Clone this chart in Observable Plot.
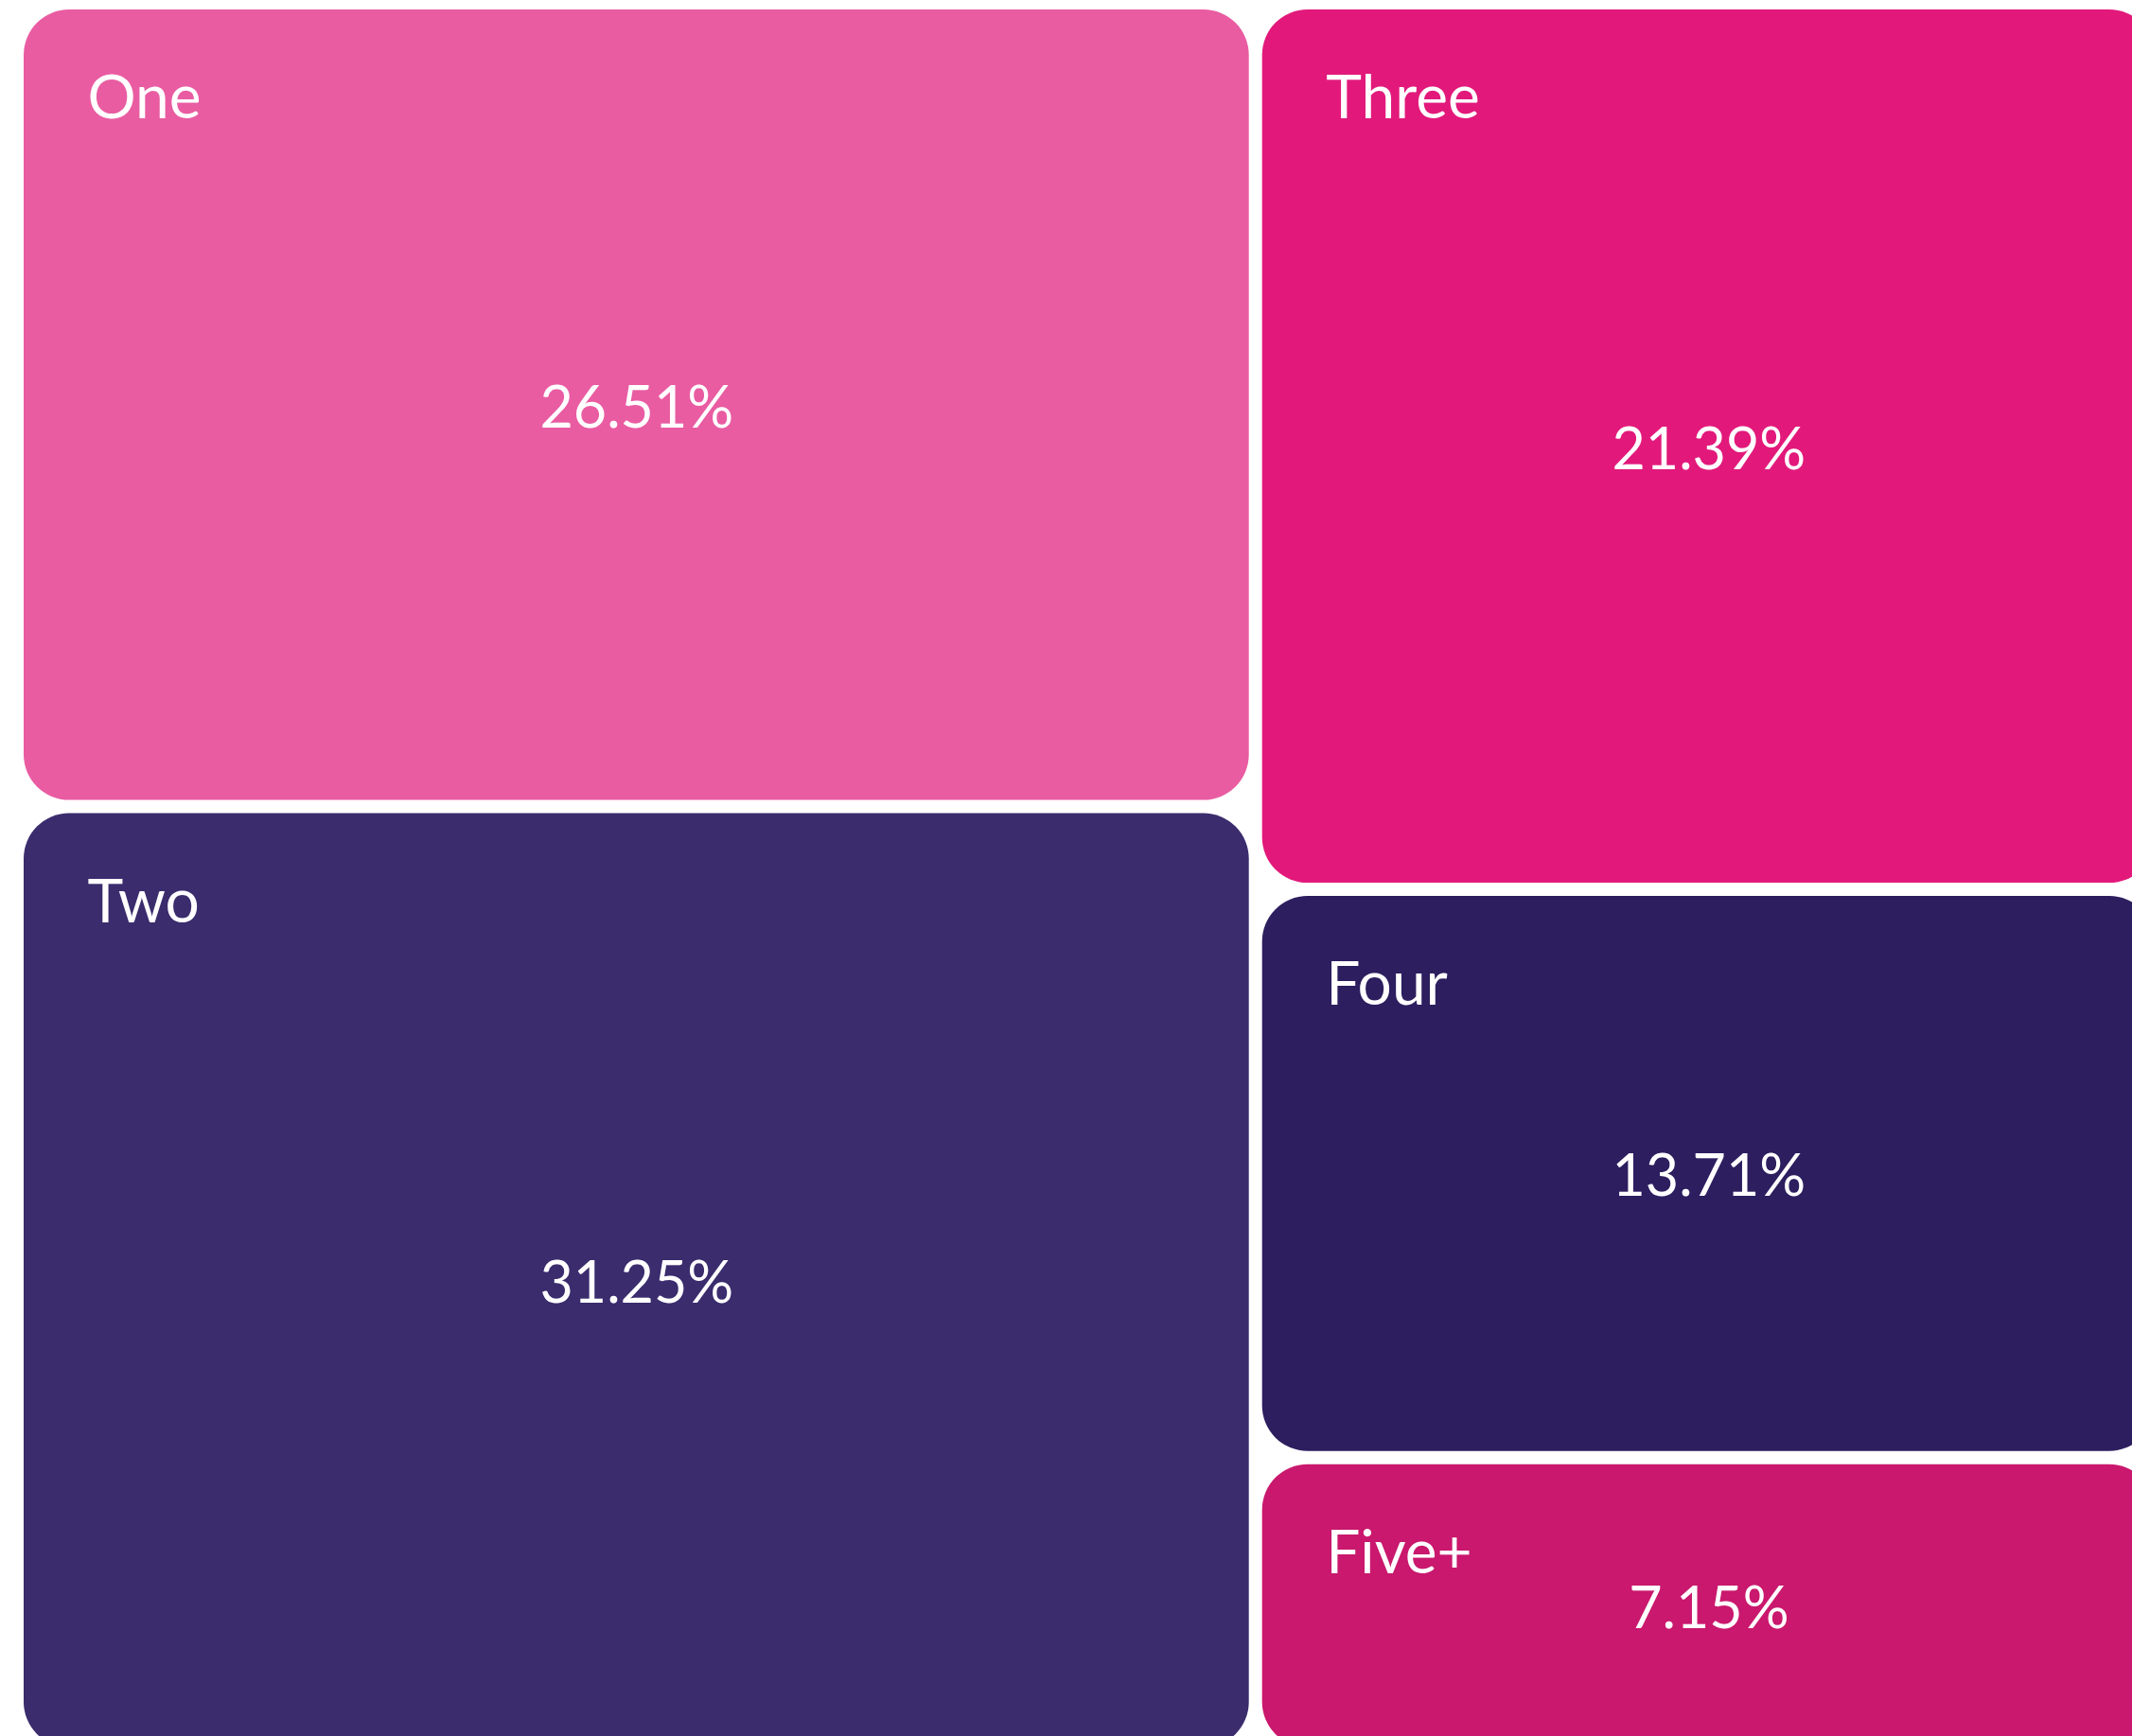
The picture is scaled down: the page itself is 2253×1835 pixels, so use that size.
<!DOCTYPE html>
<html>
<head>
<meta charset="utf-8">
<script src="https://cdn.jsdelivr.net/npm/d3@7"></script>
<script src="https://cdn.jsdelivr.net/npm/@observablehq/plot@0.6"></script>
<style>
  html, body { margin: 0; padding: 0; background: #ffffff; overflow: hidden; }
  #chart svg { overflow: hidden; display: block; }
</style>
</head>
<body>
<div id="chart"></div>
<script>
// Data
const categories = ["One", "Two", "Three", "Four", "Five+"];
const values = [26.51, 31.25, 21.39, 13.71, 7.15];
const palette = ["#E95CA2", "#3A2C6D", "#E2197B", "#2D1E5F", "#C9186D"];

// Layout extent of the treemap (layout units)
const W = 2266, H = 1851;

const rows = categories.map((name, i) => ({name, value: values[i]}));
const root = d3.hierarchy({children: rows}).sum(d => d.value || 0);
d3.treemap().size([W, H])(root);
const leaves = root.leaves();

const font = "Lato, 'Open Sans', sans-serif";

const chart = Plot.plot({
  width: 2253,
  height: 1835,
  margin: 0,
  style: {background: "#ffffff", fontFamily: font},
  x: {domain: [0, W], range: [18, 18 + W], axis: null},
  y: {domain: [0, H], range: [3, 3 + H], axis: null},
  color: {type: "ordinal", domain: categories, range: palette},
  marks: [
    Plot.rect(leaves, {
      x1: "x0", x2: "x1", y1: "y0", y2: "y1",
      fill: d => d.data.name,
      inset: 7,
      rx: 48, ry: 48
    }),
    Plot.text(leaves, {
      x: "x0", y: "y0",
      text: d => d.data.name,
      textAnchor: "start",
      lineAnchor: "top",
      dx: 74, dy: 76,
      fill: "#ffffff",
      fontSize: 64,
      fontWeight: 400
    }),
    Plot.text(leaves, {
      x: d => (d.x0 + d.x1) / 2,
      y: d => (d.y0 + d.y1) / 2,
      text: d => d.data.value.toFixed(2) + "%",
      textAnchor: "middle",
      lineAnchor: "middle",
      dy: 4,
      fill: "#ffffff",
      fontSize: 61,
      fontWeight: 400
    })
  ]
});
document.getElementById("chart").appendChild(chart);
</script>
</body>
</html>
